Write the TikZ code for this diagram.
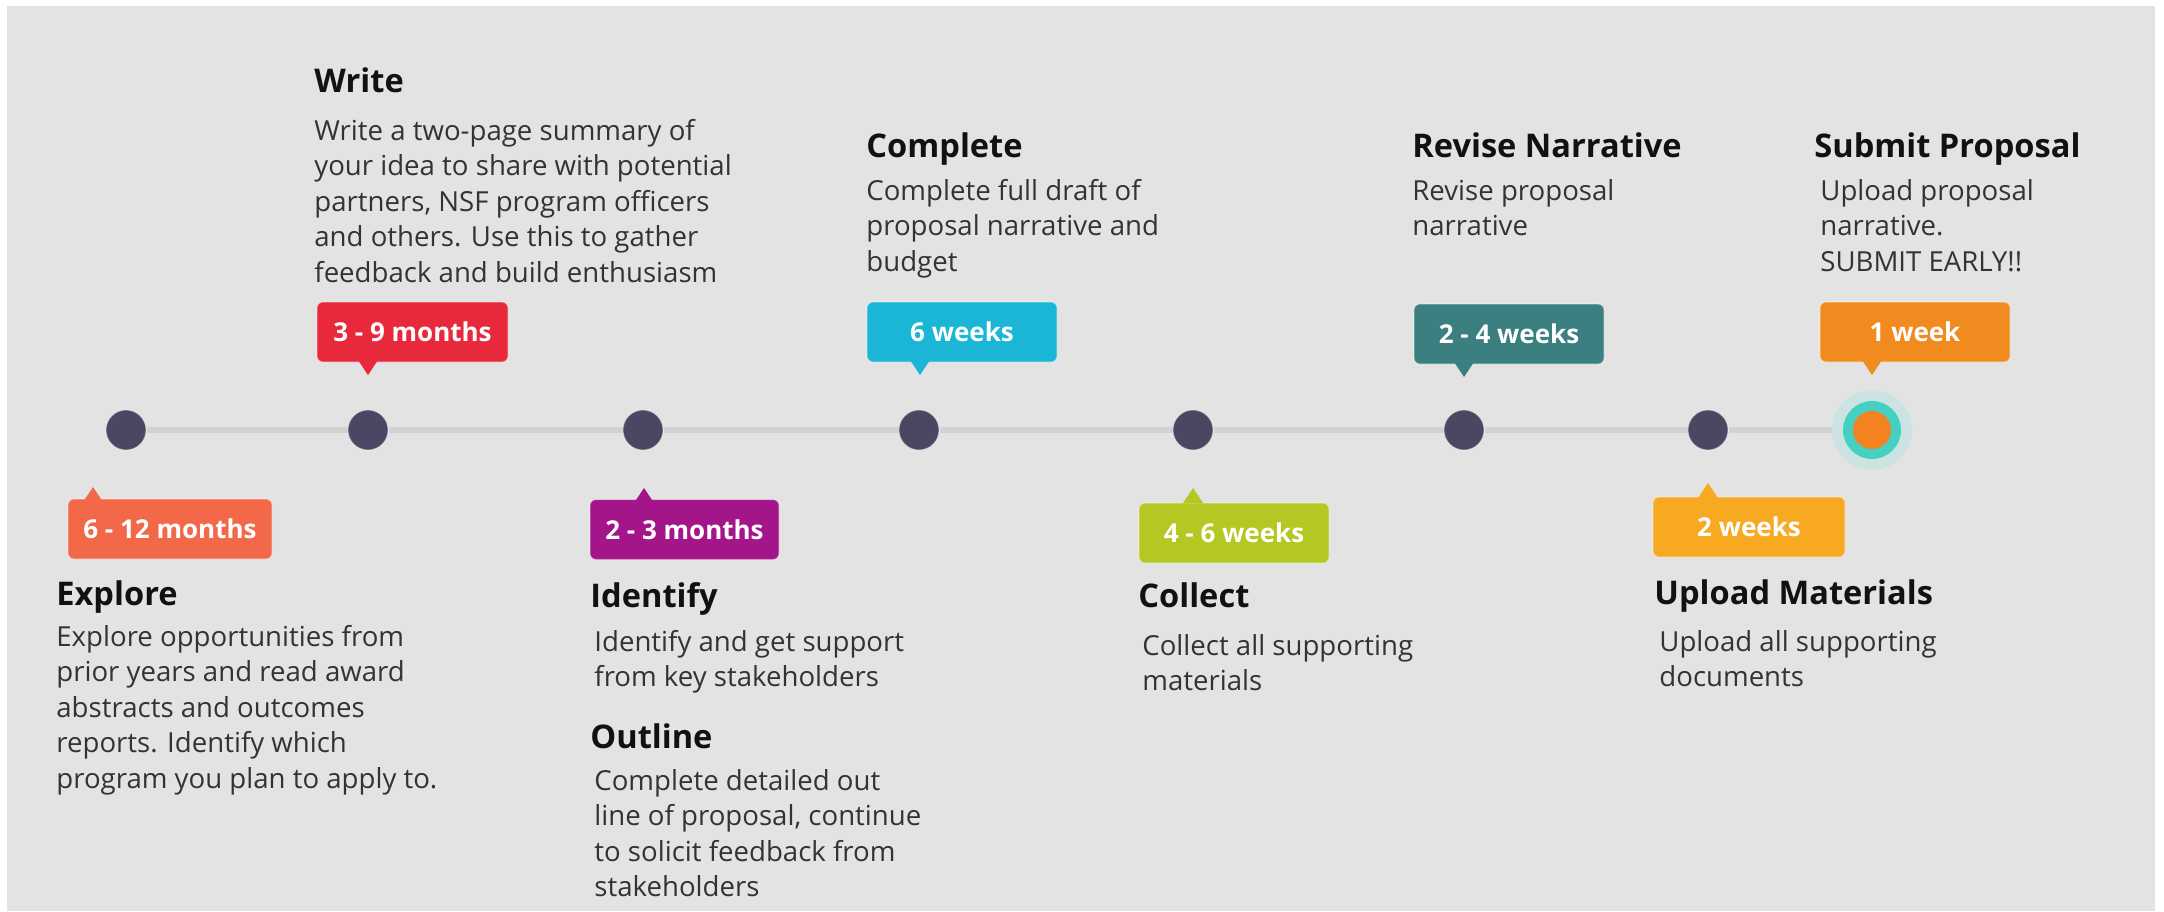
\documentclass[tikz,border=0pt]{standalone}
\usepackage{fontspec}
\usetikzlibrary{calc}
\setmainfont{Open Sans}
\definecolor{bgc}{HTML}{E3E3E3}
\definecolor{linec}{HTML}{D2D2D2}
\definecolor{dotc}{HTML}{4B4763}
\definecolor{bodyc}{HTML}{333333}
\definecolor{ttlc}{HTML}{111111}
\definecolor{cred}{HTML}{E8293B}
\definecolor{ccyan}{HTML}{1BB6D6}
\definecolor{cteal}{HTML}{3B7F81}
\definecolor{corange}{HTML}{F28B1F}
\definecolor{ccoral}{HTML}{F26849}
\definecolor{cmag}{HTML}{A5158A}
\definecolor{clime}{HTML}{B5C722}
\definecolor{camber}{HTML}{F8A922}
\definecolor{fin}{HTML}{F58220}
\definecolor{ring}{HTML}{45D0C2}
\definecolor{halo}{HTML}{BDE6E0}
\newcommand\bodyfnt{\fontsize{13.8}{17.75}\selectfont}
\newcommand\ttlfnt{\fontsize{16.3}{19}\selectfont\bfseries}
\newcommand\bubfnt{\fontsize{13}{15}\selectfont\bfseries}
\tikzset{
  bubble/.style={rounded corners=3pt, minimum height=30pt, inner sep=0pt, text=white, font=\bubfnt, draw=white, draw opacity=0.35, line width=0.6pt},
  tldot/.style={circle, fill=dotc, minimum size=20pt, inner sep=0pt, draw=white, draw opacity=0.4, line width=0.5pt},
  ttl/.style={anchor=base west, inner sep=0pt, font=\ttlfnt, text=ttlc},
  body/.style={anchor=base west, inner sep=0pt, font=\bodyfnt, text=bodyc, align=left},
}
\begin{document}
\begin{tikzpicture}[x=0.5pt,y=-0.5pt]
\useasboundingbox (0,0) rectangle (2164,911);
\fill[white] (0,0) rectangle (2164,911);
\fill[bgc] (7,6) rectangle (2155,911);
% dots
\node[tldot] (d1) at (126,430) {};
\node[tldot] (d2) at (368,430) {};
\node[tldot] (d3) at (643,430) {};
\node[tldot] (d4) at (919,430) {};
\node[tldot] (d5) at (1193,430) {};
\node[tldot] (d6) at (1464,430) {};
\node[tldot] (d7) at (1708,430) {};
\coordinate (d8) at (1872,430);
\draw[linec, line width=3pt] (d1.east) -- (d2.west) (d2.east) -- (d3.west) (d3.east) -- (d4.west) (d4.east) -- (d5.west) (d5.east) -- (d6.west) (d6.east) -- (d7.west) (d7.east) -- ($(d8)+(-40,0)$);
\fill[halo, opacity=0.6] (d8) circle (20pt);
\fill[ring] (d8) circle (14.5pt);
\fill[fin] (d8) circle (9.5pt);
% callouts above
\node[bubble, fill=cred, minimum width=95.5pt] (c1) at (412.5,332) {3 - 9 months};
\node[bubble, fill=ccyan, minimum width=95pt] (c2) at (962,332) {6 weeks};
\node[bubble, fill=cteal, minimum width=95pt] (c3) at (1509,334) {2 - 4 weeks};
\node[bubble, fill=corange, minimum width=95pt] (c4) at (1915,332) {1 week};
\coordinate (t1) at (368,375);
\coordinate (t2) at (920,375);
\coordinate (t3) at (1464,377);
\coordinate (t4) at (1872,375);
\fill[cred] (t1) -- ++(-10,-15) -- ++(20,0) -- cycle;
\fill[ccyan] (t2) -- ++(-10,-15) -- ++(20,0) -- cycle;
\fill[cteal] (t3) -- ++(-10,-15) -- ++(20,0) -- cycle;
\fill[corange] (t4) -- ++(-10,-15) -- ++(20,0) -- cycle;
% callouts below
\node[bubble, fill=ccoral, minimum width=102pt] (c5) at (170,529) {6 - 12 months};
\node[bubble, fill=cmag, minimum width=94.5pt] (c6) at (684.5,529.5) {2 - 3 months};
\node[bubble, fill=clime, minimum width=95pt] (c7) at (1234,533) {4 - 6 weeks};
\node[bubble, fill=camber, minimum width=96pt] (c8) at (1749,527) {2 weeks};
\coordinate (t5) at (93,487);
\coordinate (t6) at (644,488);
\coordinate (t7) at (1193,488);
\coordinate (t8) at (1708,483);
\fill[ccoral] (t5) -- ++(-10,15) -- ++(20,0) -- cycle;
\fill[cmag] (t6) -- ++(-10,15) -- ++(20,0) -- cycle;
\fill[clime] (t7) -- ++(-10,15) -- ++(20,0) -- cycle;
\fill[camber] (t8) -- ++(-10,15) -- ++(20,0) -- cycle;
% titles and texts above (body nodes anchored at last line baseline)
\node[ttl] (h2) at (314,92) {Write};
\node[body] (b2) at (314,282) {Write a two-page summary of\\your idea to share with potential\\partners, NSF program officers\\and others. Use this to gather\\feedback and build enthusiasm};
\node[ttl] (h4) at (866,157) {Complete};
\node[body] (b4) at (866,271) {Complete full draft of\\proposal narrative and\\budget};
\node[ttl] (h6) at (1412,157) {Revise Narrative};
\node[body] (b6) at (1412,235.5) {Revise proposal\\narrative};
\node[ttl] (h8) at (1814,157) {Submit Proposal};
\node[body] (b8) at (1820,271) {Upload proposal\\narrative.\\SUBMIT EARLY!!};
% titles and texts below
\node[ttl] (h1) at (56,605) {Explore};
\node[body] (b1) at (56,788) {Explore opportunities from\\prior years and read award\\abstracts and outcomes\\reports. Identify which\\program you plan to apply to.};
\node[ttl] (h3) at (590,607) {Identify};
\node[body] (b3) at (594,686.5) {Identify and get support\\from key stakeholders};
\node[ttl] (h3b) at (590,748) {Outline};
\node[body] (b3b) at (594,896.5) {Complete detailed out\\line of proposal, continue\\to solicit feedback from\\stakeholders};
\node[ttl] (h5) at (1138,607) {Collect};
\node[body] (b5) at (1142,690.5) {Collect all supporting\\materials};
\node[ttl] (h7) at (1654,604) {Upload Materials};
\node[body] (b7) at (1659,686.5) {Upload all supporting\\documents};
\end{tikzpicture}
\end{document}
